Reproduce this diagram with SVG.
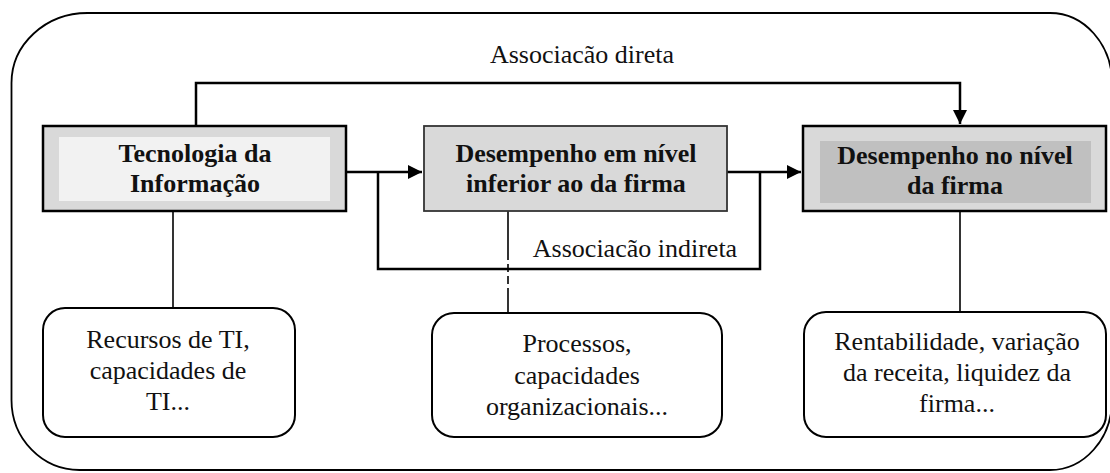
<svg xmlns="http://www.w3.org/2000/svg" width="1110" height="473" viewBox="0 0 1110 473">
<style>
.b{font-family:"Liberation Serif","Times New Roman",serif;font-weight:bold;font-size:26px;fill:#111;text-anchor:middle}
.r{font-family:"Liberation Serif","Times New Roman",serif;font-size:26px;fill:#111;text-anchor:middle}
.c{fill:none;stroke:#000;stroke-width:2.5}
.t{fill:none;stroke:#000;stroke-width:1.6}
.rb{fill:#fff;stroke:#000;stroke-width:2}
</style>
<defs>
<marker id="ah" markerUnits="userSpaceOnUse" markerWidth="16" markerHeight="16" refX="14" refY="7" orient="auto">
<path d="M0,0 L14,7 L0,14 z" fill="#000"/>
</marker>
</defs>
<path id="frame" d="M87.5 13 H1050 A62 70 0 0 1 1112 83 V400 A62 70 0 0 1 1050 470 H80 A68 70 0 0 1 11.5 400 V83 A76 70 0 0 1 87.5 13 Z" fill="none" stroke="#000" stroke-width="1.8"/>
<g id="connectors">
<path class="c" d="M196 126 V83 H960 V124" marker-end="url(#ah)"/>
<path class="c" d="M346 172 H422" marker-end="url(#ah)"/>
<path class="c" d="M378 172 V269 H760 V172"/>
<path class="c" d="M727 172 H801" marker-end="url(#ah)"/>
<path class="t" d="M173 211 V308"/>
<path class="t" d="M508 211 V252"/>
<path class="t" d="M508 252 V292" stroke-dasharray="8 4"/>
<path class="t" d="M508 292 V312"/>
<path class="t" d="M960 211 V312"/>
<text class="r" x="582" y="63">Associacão direta</text>
<text class="r" x="635" y="257">Associacão indireta</text>
</g>
<g id="ti">
<rect x="43" y="126" width="303" height="85" fill="#d9d9d9" stroke="#000" stroke-width="2.5"/>
<rect x="59" y="137" width="271" height="64" fill="#f2f2f2"/>
<text class="b" x="195" y="162">Tecnologia da</text>
<text class="b" x="195" y="192">Informação</text>
</g>
<g id="inferior">
<rect x="424" y="126" width="303" height="85" fill="#d9d9d9" stroke="#333" stroke-width="1.8"/>
<text class="b" x="576" y="162">Desempenho em nível</text>
<text class="b" x="576" y="192">inferior ao da firma</text>
</g>
<g id="firma">
<rect x="803" y="126" width="303" height="85" fill="#d9d9d9" stroke="#000" stroke-width="2.5"/>
<rect x="820" y="141" width="271" height="62" fill="#c0c0c0"/>
<text class="b" x="955" y="164">Desempenho no nível</text>
<text class="b" x="955" y="194">da firma</text>
</g>
<g id="recursos">
<rect class="rb" x="43" y="308" width="252" height="129" rx="22" ry="22"/>
<text class="r" x="168" y="348">Recursos de TI,</text>
<text class="r" x="168" y="379">capacidades de</text>
<text class="r" x="168" y="410">TI...</text>
</g>
<g id="processos">
<rect class="rb" x="432" y="313" width="290" height="124" rx="22" ry="22"/>
<text class="r" x="577" y="352">Processos,</text>
<text class="r" x="577" y="384">capacidades</text>
<text class="r" x="577" y="415">organizacionais...</text>
</g>
<g id="indicadores">
<rect class="rb" x="804" y="312" width="302" height="125" rx="22" ry="22"/>
<text class="r" x="957" y="350">Rentabilidade, variação</text>
<text class="r" x="957" y="381">da receita, liquidez da</text>
<text class="r" x="957" y="412">firma...</text>
</g>
</svg>
